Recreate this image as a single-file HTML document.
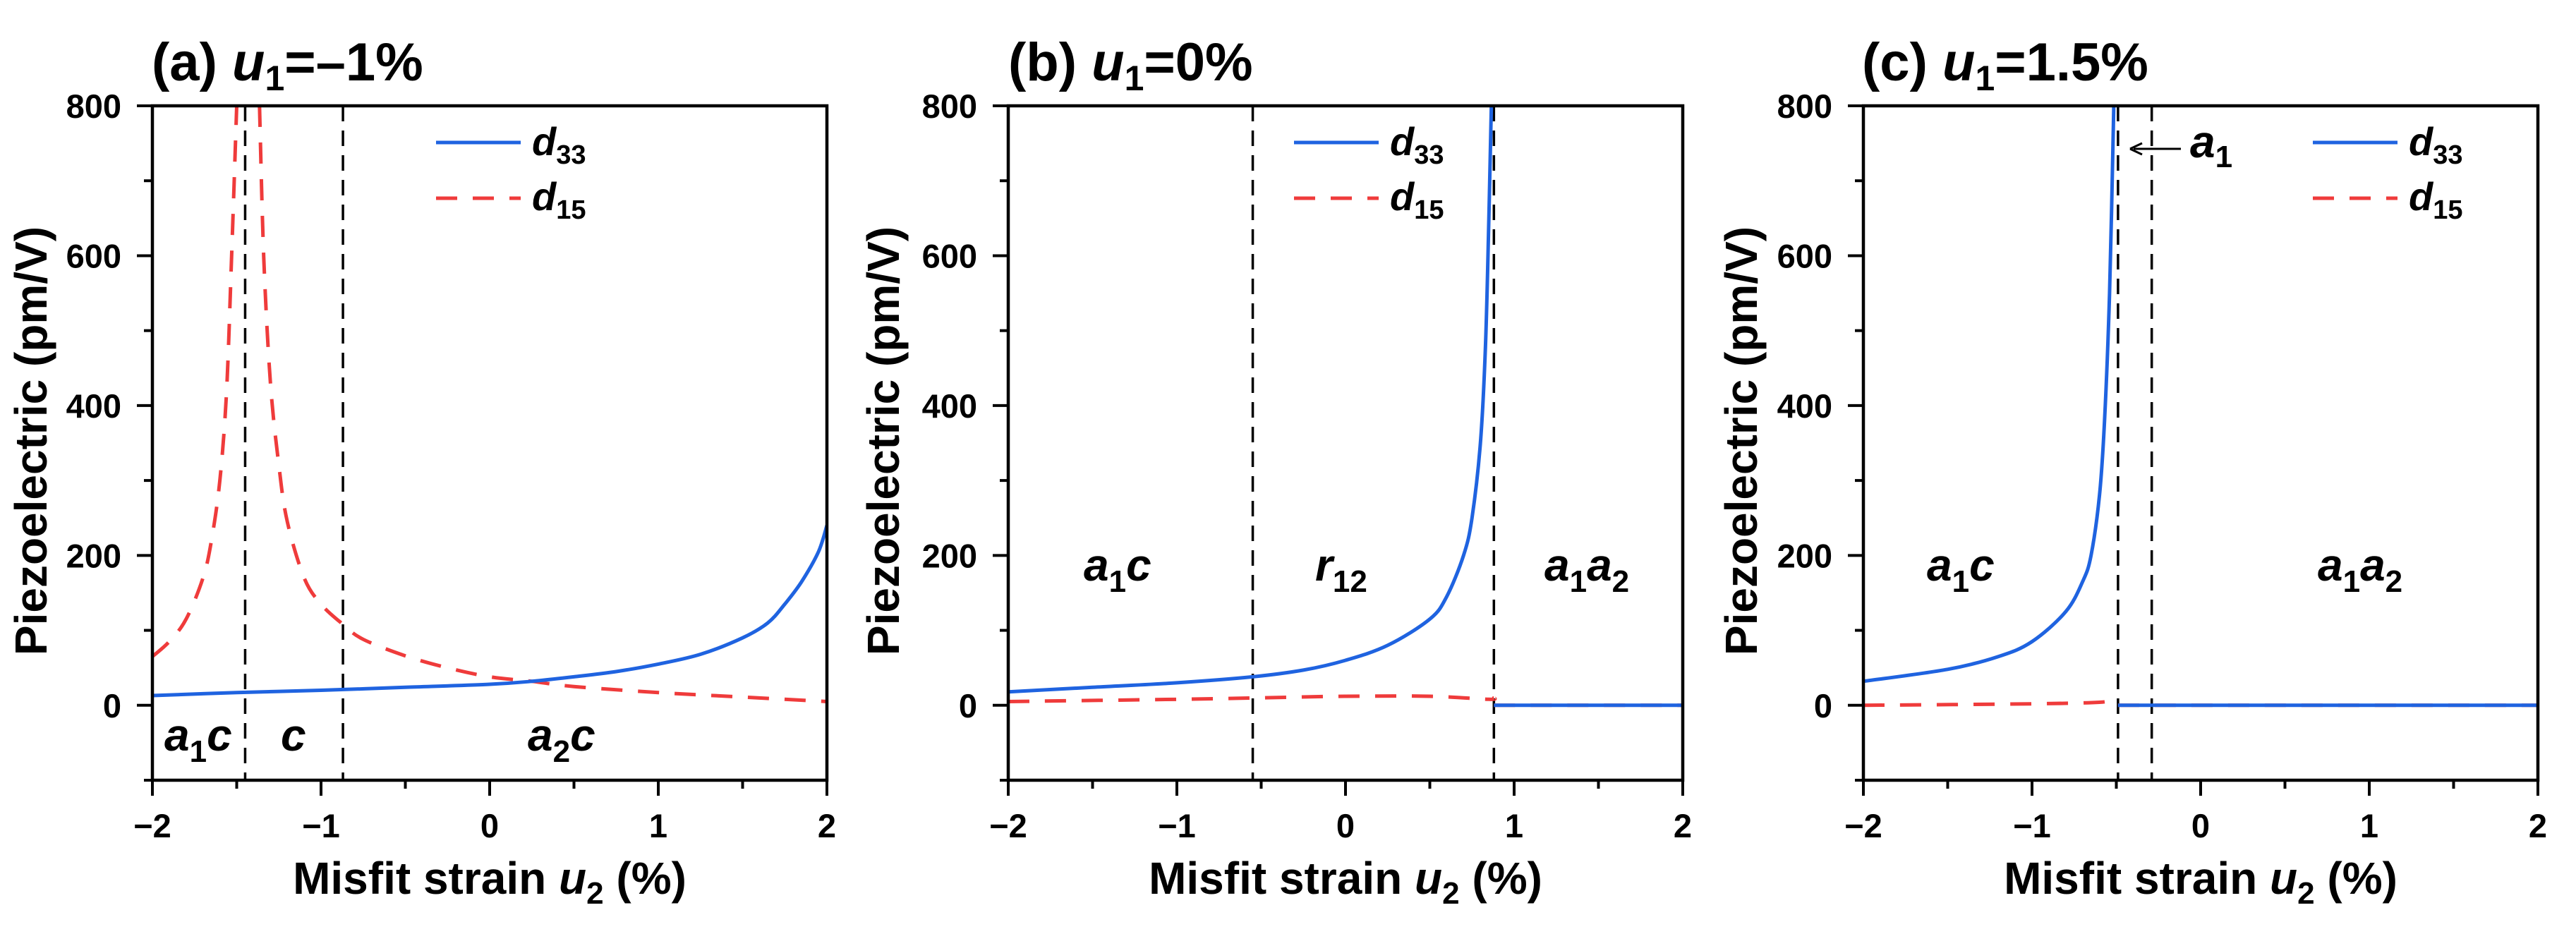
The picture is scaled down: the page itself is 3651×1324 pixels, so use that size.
<!DOCTYPE html>
<html><head><meta charset="utf-8">
<style>
html,body{margin:0;padding:0;background:#fff;}
svg{display:block;font-family:"Liberation Sans",Arial,sans-serif;}
</style></head>
<body>
<svg id="fig" width="3651" height="1324" viewBox="0 0 3651 1324" xmlns="http://www.w3.org/2000/svg"></svg>
<script>
// ---- data ----
const xTicks = [-2, -1, 0, 1, 2];
const xTickLabels = ["\u22122", "\u22121", "0", "1", "2"];
const yTicks = [0, 200, 400, 600, 800];
const yTickLabels = ["0", "200", "400", "600", "800"];

// panel a (u1 = -1%)
const aD33X = [-2, -1.5, -1, -0.5, 0, 0.25, 0.5, 0.75, 1, 1.25, 1.5, 1.65, 1.75, 1.85, 1.95, 2];
const aD33Y = [13, 17, 20, 24, 28, 32, 38, 45, 55, 68, 90, 110, 135, 165, 205, 240];
const aD15X1 = [-2, -1.9, -1.8, -1.7, -1.65, -1.6, -1.56, -1.53, -1.5];
const aD15Y1 = [65, 85, 115, 170, 220, 300, 420, 600, 800];
const aD15X2 = [-1.365, -1.34, -1.3, -1.25, -1.2, -1.1, -1.0, -0.87, -0.75, -0.5, -0.25, 0, 0.25, 0.5, 1, 1.5, 2];
const aD15Y2 = [800, 600, 430, 320, 245, 170, 135, 108, 88, 66, 50, 38, 32, 25, 17, 11, 5];
const aBounds = [-1.45, -0.87];

// panel b (u1 = 0%)
const bD33X = [-2, -1.5, -1, -0.55, -0.25, 0, 0.25, 0.5, 0.6, 0.7, 0.75, 0.8, 0.83, 0.85, 0.865];
const bD33Y = [18, 24, 30, 38, 47, 60, 80, 115, 145, 200, 250, 350, 480, 650, 800];
const bD33X2 = [0.88, 2];
const bD33Y2 = [0, 0];
const bD15X = [-2, -1, -0.5, 0, 0.5, 0.85, 0.88];
const bD15Y = [5, 8, 10, 12, 12, 8, 10];
const bD15X2 = [0.88, 2];
const bD15Y2 = [0, 0];
const bBounds = [-0.55, 0.88];

// panel c (u1 = 1.5%)
const cD33X = [-2, -1.5, -1.2, -1, -0.8, -0.7, -0.65, -0.6, -0.57, -0.54, -0.515];
const cD33Y = [32, 48, 65, 85, 125, 165, 200, 280, 380, 550, 800];
const cD33X2 = [-0.49, 2];
const cD33Y2 = [0, 0];
const cD15X = [-2, -1, -0.6, -0.52, -0.49];
const cD15Y = [0, 2, 4, 8, 8];
const cD15X2 = [-0.49, 2];
const cD15Y2 = [0, 0];
const cBounds = [-0.49, -0.29];

const NS = "http://www.w3.org/2000/svg";
const svg = document.getElementById("fig");
function mk(tag, attrs, parent) {
  const e = document.createElementNS(NS, tag);
  for (const k in attrs) e.setAttribute(k, attrs[k]);
  (parent || svg).appendChild(e);
  return e;
}
const TOP = 150, BOT = 1106;
const YMIN = -100, YMAX = 800;

function smoothPath(pts) {
  if (pts.length < 3) return pts.map((p, i) => (i ? "L" : "M") + p[0].toFixed(1) + " " + p[1].toFixed(1)).join(" ");
  let d = "M" + pts[0][0].toFixed(1) + " " + pts[0][1].toFixed(1);
  for (let i = 0; i < pts.length - 1; i++) {
    const p0 = pts[Math.max(0, i - 1)], p1 = pts[i], p2 = pts[i + 1], p3 = pts[Math.min(pts.length - 1, i + 2)];
    const c1 = [p1[0] + (p2[0] - p0[0]) / 6, p1[1] + (p2[1] - p0[1]) / 6];
    const c2 = [p2[0] - (p3[0] - p1[0]) / 6, p2[1] - (p3[1] - p1[1]) / 6];
    d += " C" + c1[0].toFixed(1) + " " + c1[1].toFixed(1) + " " + c2[0].toFixed(1) + " " + c2[1].toFixed(1) + " " + p2[0].toFixed(1) + " " + p2[1].toFixed(1);
  }
  return d;
}

function panel(p) {
  const g = mk("g", {});
  
  
  const L = p.left, R = p.left + 956;
  const sx = v => L + (v + 2) / 4 * (R - L);
  const sy = v => BOT - (v - YMIN) / (YMAX - YMIN) * (BOT - TOP);
  const clip = mk("clipPath", {id: "clip" + p.id}, g);
  mk("rect", {x: L, y: TOP, width: R - L, height: BOT - TOP}, clip);

  const t = mk("text", {x: p.titleX, y: 114, "font-size": 76, "font-weight": "bold"}, g);
  
  
  t.innerHTML = '(' + p.id + ') <tspan font-style="italic">u</tspan><tspan font-size="50" dy="14">1</tspan><tspan dy="-14">=' + p.u1 + '</tspan>';

  p.bounds.forEach(b => {
    const l = mk("line", {x1: sx(b), x2: sx(b), y1: TOP, y2: BOT, stroke: "#000", "stroke-width": 3.5, "stroke-dasharray": "22 13"}, g);
    
    
  });

  const line = (xs, ys, color, dash, name) => {
    const d = smoothPath(xs.map((x, i) => [sx(x), sy(ys[i])]));
    const a = {d: d, fill: "none", stroke: color, "stroke-width": 5, "clip-path": "url(#clip" + p.id + ")", "stroke-linejoin": "round"};
    if (dash) a["stroke-dasharray"] = "30 22";
    const e = mk("path", a, g);
    
    
  };
  p.d15.forEach(s => line(s[0], s[1], "#ef3b3b", true, "d15-curve"));
  p.d33.forEach(s => line(s[0], s[1], "#1f63e0", false, "d33-curve"));

  const fr = mk("rect", {x: L, y: TOP, width: R - L, height: BOT - TOP, fill: "none", stroke: "#000", "stroke-width": 4.5}, g);
  
  

  for (let v = -100; v <= 800; v += 100) {
    const major = v % 200 === 0;
    mk("line", {x1: L - (major ? 22 : 12), x2: L, y1: sy(v), y2: sy(v), stroke: "#000", "stroke-width": 4}, g);
  }
  yTicks.forEach((v, i) => {
    const e = mk("text", {x: L - 44, y: sy(v) + 17, "font-size": 47, "font-weight": "bold", "text-anchor": "end"}, g);
    
    
    e.textContent = yTickLabels[i];
  });
  for (let v = -2; v <= 2.001; v += 0.5) {
    const major = Math.abs(v - Math.round(v)) < 1e-6;
    mk("line", {x1: sx(v), x2: sx(v), y1: BOT, y2: BOT + (major ? 22 : 12), stroke: "#000", "stroke-width": 4}, g);
  }
  xTicks.forEach((v, i) => {
    const e = mk("text", {x: sx(v), y: 1187, "font-size": 47, "font-weight": "bold", "text-anchor": "middle"}, g);
    
    
    e.textContent = xTickLabels[i];
  });
  const xt = mk("text", {x: (L + R) / 2, y: 1267, "font-size": 64, "font-weight": "bold", "text-anchor": "middle"}, g);
  
  
  xt.innerHTML = 'Misfit strain <tspan font-style="italic">u</tspan><tspan font-size="44" dy="14">2</tspan><tspan dy="-14"> (%)</tspan>';
  const yt = mk("text", {x: 0, y: 0, "font-size": 64, "font-weight": "bold", "text-anchor": "middle", transform: "translate(" + (p.ytX + 22) + ",625) rotate(-90)"}, g);
  
  
  yt.textContent = 'Piezoelectric (pm/V)';

  const lg = mk("g", {}, g);
  
  
  mk("line", {x1: p.legX, x2: p.legX + 120, y1: 202, y2: 202, stroke: "#1f63e0", "stroke-width": 5}, lg);
  mk("line", {x1: p.legX, x2: p.legX + 120, y1: 281, y2: 281, stroke: "#ef3b3b", "stroke-width": 5, "stroke-dasharray": "30 22"}, lg);
  const l1 = mk("text", {x: p.legX + 136, y: 220, "font-size": 56, "font-weight": "bold", "font-style": "italic"}, lg);
  l1.innerHTML = 'd<tspan font-size="38" dy="12" font-style="normal">33</tspan>';
  const l2 = mk("text", {x: p.legX + 136, y: 298, "font-size": 56, "font-weight": "bold", "font-style": "italic"}, lg);
  l2.innerHTML = 'd<tspan font-size="38" dy="12" font-style="normal">15</tspan>';

  p.labels.forEach(lb => {
    const e = mk("text", {x: lb[0], y: lb[1], "font-size": 64, "font-weight": "bold", "font-style": "italic"}, g);
    
    
    e.innerHTML = lb[2];
  });
  return {g, sx, sy};
}
// main letter + subscript + following text (restored baseline)
const lab = (a, s, rest) => a + '<tspan font-size="44" dy="16" font-style="normal">' + s + '</tspan>' + (rest ? '<tspan dy="-16">' + rest + '</tspan>' : '');

panel({id: "a", u1: "\u20131%", left: 216, titleX: 215, ytX: 44, legX: 618,
  bounds: aBounds, d33: [[aD33X, aD33Y]], d15: [[aD15X1, aD15Y1], [aD15X2, aD15Y2]],
  labels: [[233, 1064, lab('a', '1', 'c')], [398, 1064, 'c'], [748, 1064, lab('a', '2', 'c')]]});
panel({id: "b", u1: "0%", left: 1429, titleX: 1429, ytX: 1252, legX: 1834,
  bounds: bBounds, d33: [[bD33X, bD33Y], [bD33X2, bD33Y2]], d15: [[bD15X, bD15Y], [bD15X2, bD15Y2]],
  labels: [[1536, 823, lab('a', '1', 'c')], [1864, 823, lab('r', '12', '')], [2189, 823, 'a<tspan font-size="44" dy="16" font-style="normal">1</tspan><tspan dy="-16">a</tspan><tspan font-size="44" dy="16" font-style="normal">2</tspan>']]});
panel({id: "c", u1: "1.5%", left: 2641, titleX: 2639, ytX: 2468, legX: 3278,
  bounds: cBounds, d33: [[cD33X, cD33Y], [cD33X2, cD33Y2]], d15: [[cD15X, cD15Y], [cD15X2, cD15Y2]],
  labels: [[2731, 823, lab('a', '1', 'c')], [3285, 823, 'a<tspan font-size="44" dy="16" font-style="normal">1</tspan><tspan dy="-16">a</tspan><tspan font-size="44" dy="16" font-style="normal">2</tspan>']]});

const ar = mk("g", {});


mk("line", {x1: 3024, x2: 3091, y1: 211, y2: 211, stroke: "#000", "stroke-width": 3}, ar);
mk("path", {d: "M3019 211 L3036 203 M3019 211 L3036 219", stroke: "#000", "stroke-width": 3, fill: "none"}, ar);
const at = mk("text", {x: 3104, y: 223, "font-size": 64, "font-weight": "bold", "font-style": "italic"}, ar);
at.innerHTML = 'a<tspan font-size="44" dy="14" font-style="normal">1</tspan>';
</script>
</body></html>
